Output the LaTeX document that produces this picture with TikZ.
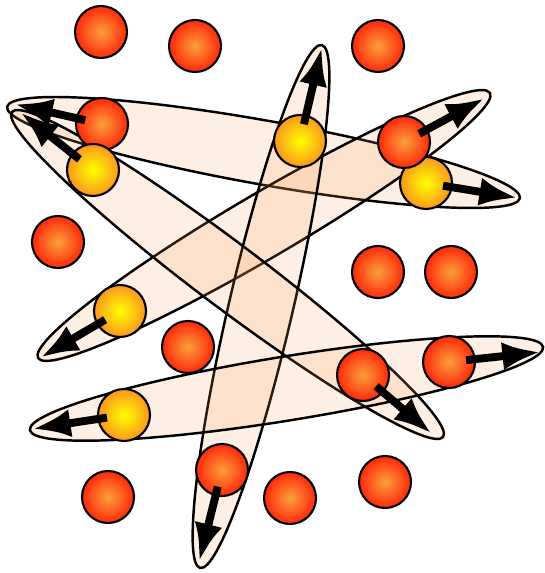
\documentclass[tikz,border=0pt]{standalone}
\usetikzlibrary{arrows.meta,shapes.geometric}
\definecolor{peach}{RGB}{245,160,90}
\definecolor{hotin}{RGB}{250,160,60}
\definecolor{hotout}{RGB}{255,40,10}
\definecolor{warmin}{RGB}{255,255,0}
\definecolor{warmout}{RGB}{250,150,30}
\begin{document}
\begin{tikzpicture}[x=0.02cm,y=-0.02cm,pair/.style={ellipse,draw=black,line width=1.4pt,fill=peach,fill opacity=.17,minimum height=1.28cm,inner sep=0pt},ball/.style={circle,draw=black,line width=1.2pt,minimum size=1.04cm,inner sep=0pt,outer sep=0pt},hot/.style={ball,inner color=hotin,outer color=hotout},warm/.style={ball,inner color=warmin,outer color=warmout},arr/.style={-{Latex[length=22pt,width=16pt]},line width=4.5pt,shorten <=-5pt}]
\useasboundingbox (0,0) rectangle (544,573);
\node[pair,minimum width=10.42cm,rotate=-10.1] (pA) at (263.5,152.5) {};
\node[pair,minimum width=10.48cm,rotate=30.4] (pB) at (264,225.5) {};
\node[pair,minimum width=10.74cm,rotate=76.9] (pC) at (261,306.5) {};
\node[pair,minimum width=10.80cm,rotate=-37.0] (pD) at (227.5,274.5) {};
\node[pair,minimum width=10.40cm,rotate=9.2] (pE) at (286.5,388.5) {};
\node[hot] (f1) at (101,32) {};
\node[hot] (f2) at (195,46) {};
\node[hot] (f3) at (378,46) {};
\node[hot] (f4) at (58,242) {};
\node[hot] (f5) at (378,272) {};
\node[hot] (f6) at (451,272) {};
\node[hot] (f7) at (188,347) {};
\node[hot] (f8) at (108,497) {};
\node[hot] (f9) at (290,498) {};
\node[hot] (f10) at (385,482) {};
\node[hot] (hA) at (102,124) {};
\node[warm] (wA) at (426,183) {};
\node[hot] (hB) at (404,142) {};
\node[warm] (wB) at (120,311) {};
\node[warm] (wC) at (300,141) {};
\node[hot] (hC) at (222,470) {};
\node[warm] (wD) at (93,170) {};
\node[hot] (hD) at (363,375) {};
\node[warm] (wE) at (124,415) {};
\node[hot] (hE) at (449,362) {};
\coordinate (thA) at (14,104);
\coordinate (twA) at (518,198);
\coordinate (thB) at (485,98);
\coordinate (twB) at (40,358);
\coordinate (twC) at (322,47);
\coordinate (thC) at (199,562);
\coordinate (twD) at (20,112);
\coordinate (thD) at (432,434);
\coordinate (twE) at (32,429);
\coordinate (thE) at (541,352);
\draw[arr] (hA) -- (thA);
\draw[arr] (wA) -- (twA);
\draw[arr] (hB) -- (thB);
\draw[arr] (wB) -- (twB);
\draw[arr] (wC) -- (twC);
\draw[arr] (hC) -- (thC);
\draw[arr] (wD) -- (twD);
\draw[arr] (hD) -- (thD);
\draw[arr] (wE) -- (twE);
\draw[arr] (hE) -- (thE);
\end{tikzpicture}
\end{document}
